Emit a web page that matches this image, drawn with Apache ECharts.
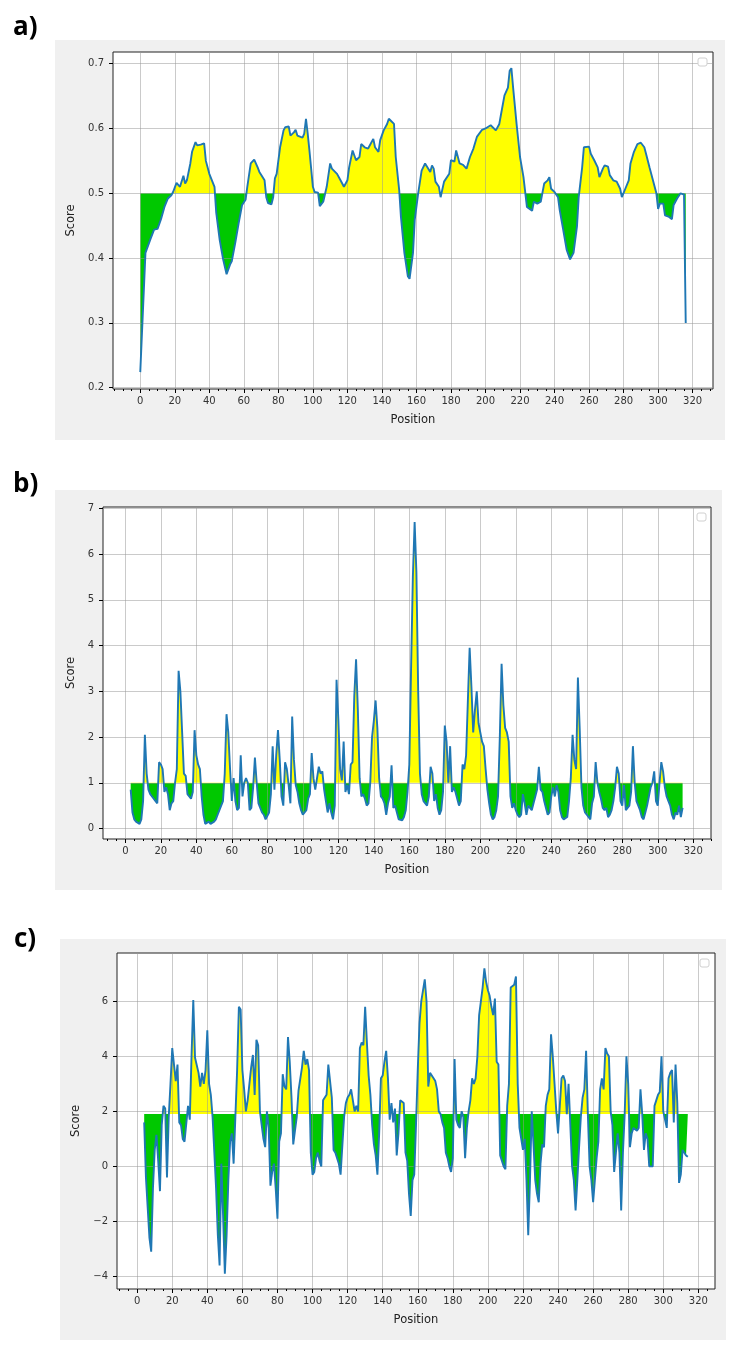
<!DOCTYPE html>
<html><head><meta charset="utf-8">
<script src="https://cdn.jsdelivr.net/npm/echarts@6/dist/echarts.min.js"></script>
<style>html,body{margin:0;padding:0;background:#fff}#c{width:731px;height:1349px}</style>
</head><body><div id="c"></div><script>
// ---------- data ----------
// panel a: [position, score]
const profileA = [
[0,0.224],[3,0.408],[4,0.41],[6,0.43],[8,0.444],[10,0.445],[11,0.442],[12,0.46],[14,0.479],[16,0.492],
[18,0.497],[19,0.502],[21,0.516],[22,0.514],[23,0.51],[25,0.527],[26,0.515],[27,0.52],[29,0.546],[30,0.564],
[32,0.579],[33,0.574],[35,0.575],[37,0.577],[38,0.55],[40,0.53],[41,0.528],[43,0.51],[44,0.47],[46,0.428],
[48,0.398],[50,0.375],[52,0.39],[53,0.395],[55,0.423],[57,0.454],[59,0.482],[61,0.49],[62,0.51],[64,0.546],
[65,0.548],[66,0.552],[67,0.553],[68,0.54],[69,0.533],[70,0.535],[72,0.52],[73,0.494],[74,0.485],[76,0.483],
[77,0.494],[78,0.523],[79,0.53],[81,0.571],[83,0.597],[84,0.602],[86,0.603],[87,0.589],[89,0.594],[90,0.598],
[91,0.589],[94,0.586],[95,0.592],[96,0.615],[97,0.592],[98,0.566],[100,0.51],[101,0.502],[103,0.501],[104,0.48],
[106,0.487],[107,0.49],[108,0.51],[110,0.546],[111,0.538],[114,0.53],[116,0.52],[118,0.51],[120,0.52],[121,0.54],
[123,0.566],[125,0.551],[127,0.556],[128,0.576],[130,0.571],[132,0.569],[133,0.572],[135,0.584],[136,0.571],[138,0.564],
[139,0.582],[141,0.597],[143,0.607],[144,0.615],[145,0.615],[147,0.607],[148,0.556],[150,0.505],[151,0.464],[153,0.408],
[155,0.372],[156,0.368],[158,0.408],[159,0.459],[161,0.5],[163,0.535],[165,0.546],[166,0.543],[168,0.533],[169,0.543],
[170,0.538],[171,0.518],[173,0.51],[174,0.494],[176,0.518],[177,0.516],[179,0.53],[180,0.551],[182,0.549],[183,0.566],
[185,0.546],[187,0.544],[189,0.538],[191,0.556],[193,0.569],[195,0.587],[196,0.589],[198,0.598],[200,0.6],[201,0.602],
[203,0.605],[204,0.602],[206,0.597],[208,0.607],[209,0.622],[211,0.651],[213,0.663],[214,0.689],[215,0.693],[216,0.663],
[218,0.607],[220,0.556],[222,0.525],[224,0.479],[225,0.479],[227,0.473],[228,0.487],[230,0.484],[232,0.487],[234,0.515],
[236,0.52],[237,0.525],[238,0.507],[240,0.502],[242,0.494],[243,0.474],[245,0.444],[247,0.413],[249,0.398],[251,0.408],
[253,0.449],[254,0.494],[256,0.54],[257,0.571],[260,0.572],[261,0.561],[263,0.551],[265,0.54],[266,0.525],[268,0.538],
[269,0.543],[271,0.541],[272,0.528],[274,0.52],[276,0.518],[278,0.507],[279,0.494],[281,0.507],[283,0.52],[284,0.546],
[286,0.564],[288,0.576],[290,0.578],[292,0.571],[293,0.561],[295,0.54],[297,0.52],[299,0.5],[300,0.476],[301,0.484],
[303,0.484],[304,0.466],[306,0.464],[308,0.46],[309,0.482],[311,0.492],[313,0.5],[315,0.498],[316,0.3]
];

// panel b: scores for consecutive positions starting at startB
const startB = 3;
const scoreB = [
0.85,0.35,0.2,0.15,0.12,0.1,0.2,0.6,2.05,1.2,
0.85,0.75,0.7,0.68,0.6,0.55,1.45,1.4,1.3,0.8,
0.9,0.75,0.4,0.55,0.6,1.0,1.3,3.45,3.0,2.1,
1.2,1.15,0.75,0.7,0.65,0.8,2.15,1.6,1.4,1.3,
0.7,0.3,0.1,0.12,0.15,0.1,0.12,0.15,0.2,0.3,
0.4,0.5,0.6,1.2,2.5,2.1,1.3,0.6,1.1,0.6,
0.4,0.45,1.6,0.7,1.0,1.1,1.0,0.4,0.45,0.9,
1.55,1.0,0.55,0.55,0.35,0.3,0.2,0.2,0.35,0.75,
1.8,0.85,1.6,2.15,1.5,0.7,0.5,1.45,1.3,0.95,
0.55,2.45,1.5,0.95,0.8,0.55,0.4,0.3,0.35,0.4,
0.65,0.75,1.65,1.1,0.85,1.1,1.35,1.2,1.25,0.85,
0.6,0.35,0.55,0.35,0.2,0.5,3.25,2.4,1.3,1.05,
1.9,0.8,0.95,0.75,1.4,1.45,2.9,3.7,2.6,1.1,
0.7,0.75,0.65,0.5,0.55,1.0,2.0,2.35,2.8,2.2,
1.1,0.7,0.65,0.55,0.3,0.55,0.7,1.38,0.45,0.5,
0.35,0.2,0.2,0.18,0.25,0.4,0.8,1.4,3.5,5.5,
6.7,5.6,3.0,1.2,0.75,0.6,0.55,0.5,0.7,1.35,
1.2,0.6,0.75,0.45,0.3,0.4,0.8,2.25,1.9,1.0,
1.8,0.8,0.9,0.8,0.65,0.5,0.6,1.4,1.3,1.6,
2.8,3.95,3.1,2.1,2.6,3.0,2.3,2.1,1.9,1.8,
1.3,0.85,0.55,0.3,0.2,0.25,0.4,0.7,2.0,3.6,
2.7,2.2,2.1,1.9,0.7,0.45,0.55,0.4,0.3,0.25,
0.3,0.75,0.55,0.3,0.5,0.45,0.4,0.55,0.7,0.85,
1.35,0.85,0.8,0.6,0.45,0.3,0.35,0.7,0.9,0.7,
0.95,0.8,0.4,0.25,0.2,0.2,0.25,0.6,1.1,2.05,
1.5,1.3,3.3,2.2,0.9,0.5,0.35,0.3,0.3,0.2,
0.55,0.7,1.45,1.0,0.8,0.65,0.45,0.4,0.45,0.25,
0.3,0.4,0.6,0.9,1.35,1.2,0.6,0.5,0.95,0.4,
0.4,0.5,0.8,1.8,1.0,0.6,0.6,0.4,0.25,0.2,
0.35,0.5,0.7,0.9,1.0,1.25,0.6,0.5,1.0,1.45,
1.25,0.9,0.7,0.6,0.5,0.3,0.2,0.35,0.3,0.5,
0.25,0.45
];

// panel c: scores for consecutive positions starting at startC
const startC = 4;
const scoreC = [
1.6,-0.4,-1.5,-2.6,-3.1,-0.8,0.6,1.15,0.2,-0.9,
1.5,2.2,2.1,-0.4,1.8,3.0,4.3,4.35,3.1,3.7,
1.6,1.5,1.0,0.9,0.85,2.2,1.7,4.0,6.05,3.95,
3.9,3.4,2.9,3.4,3.0,3.5,4.95,3.0,2.6,1.8,
0.5,-0.8,-2.5,-3.6,0.1,-1.8,-3.9,-2.5,-0.5,0.9,
1.2,0.1,1.8,3.5,5.8,5.7,3.5,2.8,2.0,2.4,
3.0,3.6,4.05,2.6,4.6,4.4,2.0,1.5,1.0,0.7,
2.0,1.4,-0.7,-0.2,0.1,-0.8,-1.9,0.9,1.2,3.35,
2.9,2.8,4.7,3.8,2.5,0.8,0.75,1.8,2.75,2.8,
3.6,4.2,3.7,3.9,3.5,0.5,-0.3,-0.2,0.3,0.5,
0.2,0.0,2.4,2.4,2.6,3.7,3.7,2.5,0.6,0.5,
0.3,0.1,-0.3,-0.35,1.8,2.3,2.5,2.6,2.8,2.4,
2.0,2.2,2.0,4.3,4.5,4.4,5.8,4.5,3.3,2.6,
1.5,0.8,0.4,-0.3,1.2,3.2,3.3,3.8,4.2,3.2,
1.7,2.3,1.6,2.1,0.4,1.2,2.4,2.35,2.3,0.5,
0.2,-1.0,-1.8,-0.5,-0.3,1.5,3.5,5.2,6.0,6.4,
6.8,6.0,2.9,3.4,3.4,3.2,3.1,2.8,2.0,1.9,
1.6,1.4,0.5,0.3,0.0,-0.2,0.3,3.9,1.7,1.5,
1.4,2.0,1.8,0.3,1.4,2.0,2.4,3.2,3.0,3.2,
4.0,5.5,6.0,6.5,7.2,6.7,6.4,6.2,5.8,5.5,
6.1,3.8,3.7,0.4,0.2,0.0,-0.1,2.2,3.0,6.5,
6.5,6.6,6.9,3.0,1.4,1.4,0.6,1.0,-0.5,-2.5,
-0.5,2.0,0.8,-0.5,-1.0,-1.3,0.1,0.8,0.7,2.2,
2.6,2.8,4.8,4.0,3.0,2.0,1.2,2.2,3.2,3.3,
3.1,1.9,3.0,1.5,0.0,-0.5,-1.6,-0.5,0.7,1.8,
2.5,2.8,4.2,1.9,0.0,-0.5,-1.3,-0.5,0.3,0.9,
2.8,3.2,2.8,4.3,4.1,4.0,2.0,1.5,-0.2,0.5,
1.2,0.5,-1.6,0.5,1.9,4.0,3.0,0.7,1.2,1.4,
1.4,1.3,1.4,2.8,1.9,0.6,1.2,1.0,0.0,0.0,
0.0,2.2,2.4,2.6,2.7,4.0,2.0,2.0,1.4,3.2,
3.4,3.5,1.6,3.7,2.3,-0.6,-0.3,0.6,0.5,0.4,
0.35
];

// thresholds (fill baseline)
const thresholds = [0.5, 1.0, 1.9];

// tick labels
const xTicks = [0,20,40,60,80,100,120,140,160,180,200,220,240,260,280,300,320];
const yTicksA = [0.2,0.3,0.4,0.5,0.6,0.7];
const yTicksB = [0,1,2,3,4,5,6,7];
const yTicksC = [-4,-2,0,2,4,6];

// ---------- build ----------
const dataA = profileA;
const dataB = scoreB.map((v, i) => [startB + i, v]);
const dataC = scoreC.map((v, i) => [startC + i, v]);

const GREEN = '#00c800', YELLOW = '#ffff00', LINE = '#1f77b4';
const FONT = 'DejaVu Sans';

const panels = [
  {data: dataA, th: thresholds[0], grid: {left:113, top:52, width:600, height:337},
   xr: [-15.8, 331.8], yr: [0.198, 0.718], yTicks: yTicksA, fmt: v => v.toFixed(1), yGap: 27,
   bg: [55, 40, 670, 400], label: 'a)', lp: [13, 28], lg: [698, 58]},
  {data: dataB, th: thresholds[1], grid: {left:103, top:507, width:608, height:332},
   xr: [-12.6, 330], yr: [-0.23, 7.03], yTicks: yTicksB, fmt: v => String(v), yGap: 17,
   bg: [55, 490, 667, 400], label: 'b)', lp: [13, 485], lg: [697, 513]},
  {data: dataC, th: thresholds[2], grid: {left:117, top:953, width:598, height:336},
   xr: [-11.5, 329.5], yr: [-4.455, 7.755], yTicks: yTicksC,
   fmt: v => (v < 0 ? '\u2212' + Math.abs(v) : String(v)), yGap: 28,
   bg: [60, 939, 666, 401], label: 'c)', lp: [14, 940], lg: [700, 959]}
];

// two-colour fill: the area polygon spans from min(data, th) to max(data, th);
// a hard colour stop at the threshold splits it into yellow (above) and green (below)
function splitFill(data, th) {
  let hi = th, lo = th;
  data.forEach(d => { if (d[1] > hi) hi = d[1]; if (d[1] < lo) lo = d[1]; });
  const f = (hi - th) / (hi - lo);
  return new echarts.graphic.LinearGradient(0, 0, 0, 1, [
    {offset: 0, color: YELLOW}, {offset: f, color: YELLOW},
    {offset: f, color: GREEN}, {offset: 1, color: GREEN}
  ]);
}

const grids = [], xAxes = [], yAxes = [], series = [], graphics = [];

panels.forEach((p, i) => {
  const minor = [];
  for (let v = -15; v <= 330; v += 5) if (v % 20 !== 0 && v >= p.xr[0] && v <= p.xr[1]) minor.push(v);

  graphics.push({type: 'rect', z: -10, silent: true,
    shape: {x: p.bg[0], y: p.bg[1], width: p.bg[2], height: p.bg[3]}, style: {fill: '#f0f0f0'}});
  graphics.push({type: 'text', x: p.lp[0], y: p.lp[1], z: 10, silent: true,
    style: {text: p.label, font: 'bold 26px "Open Sans"', fill: '#000', verticalAlign: 'middle'}});
  graphics.push({type: 'rect', z: 10, silent: true,
    shape: {x: p.lg[0], y: p.lg[1], width: 9, height: 8, r: 2},
    style: {fill: '#fff', stroke: '#d0d0d0', lineWidth: 1}});

  grids.push(Object.assign({show: true, backgroundColor: '#fff', borderColor: '#222', borderWidth: 1}, p.grid));

  xAxes.push({type: 'value', gridIndex: i, min: p.xr[0], max: p.xr[1], position: 'bottom',
    name: 'Position', nameLocation: 'middle', nameGap: 25,
    nameTextStyle: {fontFamily: FONT, fontSize: 11.5, color: '#222'},
    axisLine: {show: false, onZero: false},
    axisTick: {show: true, customValues: xTicks, length: 4, lineStyle: {color: '#000', width: 1}},
    axisLabel: {customValues: xTicks, margin: 7, fontFamily: FONT, fontSize: 10, color: '#333'},
    splitLine: {show: false}});
  xAxes.push({type: 'value', gridIndex: i, min: p.xr[0], max: p.xr[1], position: 'bottom',
    axisLine: {show: false, onZero: false},
    axisTick: {show: true, customValues: minor, length: 2, lineStyle: {color: '#000', width: 1}},
    axisLabel: {show: false}, splitLine: {show: false}});

  yAxes.push({type: 'value', gridIndex: i, min: p.yr[0], max: p.yr[1], position: 'left',
    name: 'Score', nameLocation: 'middle', nameGap: p.yGap,
    nameTextStyle: {fontFamily: FONT, fontSize: 11.5, color: '#222'},
    axisLine: {show: false, onZero: false},
    axisTick: {show: true, customValues: p.yTicks, length: 4, lineStyle: {color: '#000', width: 1}},
    axisLabel: {customValues: p.yTicks, margin: 9, fontFamily: FONT, fontSize: 10, color: '#333', formatter: p.fmt},
    splitLine: {show: false}});

  const gridLines = xTicks.map(v => ({xAxis: v})).concat(p.yTicks.map(v => ({yAxis: v})));

  series.push({type: 'line', xAxisIndex: 2 * i, yAxisIndex: i, data: p.data, symbol: 'none',
    silent: true, z: 1, lineStyle: {width: 0, opacity: 0}, itemStyle: {color: GREEN},
    areaStyle: {origin: p.th, opacity: 1, color: splitFill(p.data, p.th)},
    markLine: {silent: true, z: 2, symbol: ['none', 'none'], label: {show: false},
      lineStyle: {color: 'rgba(150,150,150,0.5)', width: 1, type: 'solid'},
      emphasis: {disabled: true}, animation: false, data: gridLines}});
  series.push({type: 'line', xAxisIndex: 2 * i, yAxisIndex: i, data: p.data, symbol: 'none',
    silent: true, z: 3, lineStyle: {color: LINE, width: 1.9}, itemStyle: {color: LINE}});
});

const chart = echarts.init(document.getElementById('c'), null, {renderer: 'canvas'});
chart.setOption({
  animation: false,
  backgroundColor: '#fff',
  grid: grids, xAxis: xAxes, yAxis: yAxes,
  series: series, graphic: graphics
});
</script></body></html>
